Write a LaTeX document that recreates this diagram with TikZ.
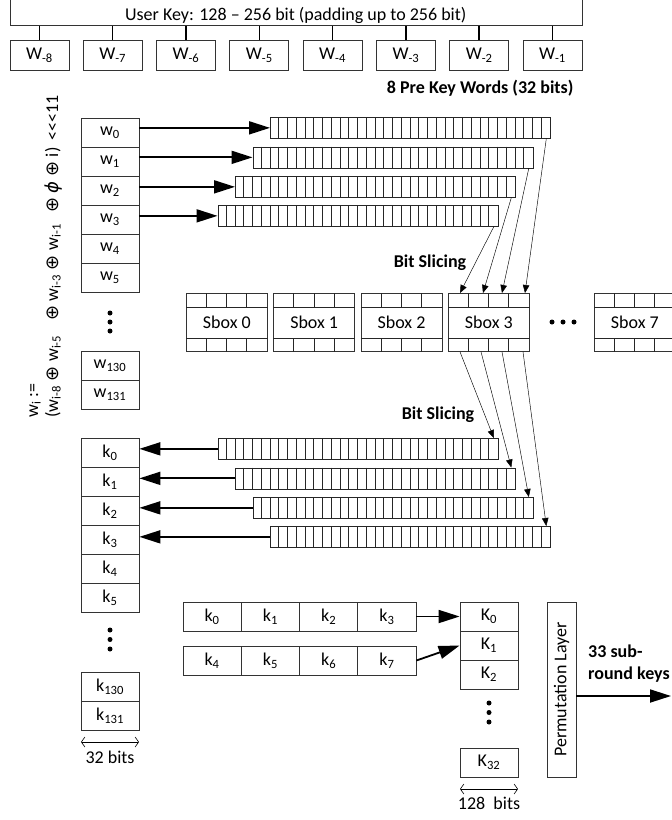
\documentclass[tikz,border=0pt]{standalone}
\usepackage{fontspec}
\setmainfont{Carlito}
\newfontfamily\symf{DejaVu Sans}
\usetikzlibrary{arrows.meta,calc}
\newcommand\fs{\fontsize{18}{21.6}\selectfont}
\newcommand\oxr{\hspace{4.5pt}{\symf ⊕}\hspace{4.5pt}}
\tikzset{
  bx/.style={draw=black!80, line width=0.8pt, inner sep=0pt, minimum width=58pt, minimum height=29pt},
  regbox/.style={draw=black!85, line width=0.7pt, inner sep=0pt, minimum width=280pt, minimum height=21pt, anchor=north west},
  cellline/.style={black!85, line width=0.6pt},
  bigarrow/.style={line width=1.8pt, -{Triangle[length=21pt,width=13pt]}},
  thinarrow/.style={line width=0.45pt, -{Triangle[length=8pt,width=6.5pt]}},
  conn/.style={line width=1.5pt},
  dimarrow/.style={line width=0.6pt, {Straight Barb[length=3.5pt,width=10pt]}-{Straight Barb[length=3.5pt,width=10pt]}},
  lbl/.style={font=\fs\bfseries},
  dotmark/.style={fill=black},
}
\newcommand\regist[3]{%
  \node[regbox] (#1) at (#2,#3) {};
  \foreach \i in {1,...,31}{\draw[cellline] ($(#1.north west)+(\i*8.75,0)$) -- ++(0,21);}
  \coordinate (#1t) at ($(#1.north east)+(-4.4,0)$);
  \coordinate (#1b) at ($(#1.south east)+(-4.4,0)$);
}
\newcommand\sboxunit[3]{%
  \node[draw=black!80, line width=0.8pt, inner sep=0pt, minimum width=81pt, minimum height=58pt, anchor=north west] (#1) at (#2,293) {#3};
  \draw[cellline] ($(#1.north west)+(0,14)$) -- ($(#1.north east)+(0,14)$);
  \draw[cellline] ($(#1.south west)+(0,-14)$) -- ($(#1.south east)+(0,-14)$);
  \foreach \i in {1,2,3}{
    \draw[cellline] ($(#1.north west)+(\i*20.25,0)$) -- ++(0,14);
    \draw[cellline] ($(#1.south west)+(\i*20.25,0)$) -- ++(0,-14);
  }
}
\begin{document}
\begin{tikzpicture}[x=1pt,y=-1pt,every node/.style={font=\fs}]
\useasboundingbox (0,0) rectangle (672,820);
% user key
\node[draw=black!80, line width=0.8pt, minimum width=572.5pt, minimum height=40pt, anchor=south west, inner sep=0pt] (ukey) at (9.5,25.7) {};
\node (uktext) at (295.75,15) {User Key: 128 – 256 bit (padding up to 256 bit)};
\foreach \n [count=\c from 0] in {8,7,6,5,4,3,2,1} {
  \node[bx, minimum width=59pt, minimum height=30pt, anchor=north west] (W\n) at (9.5+\c*73.3, 40) {W\textsubscript{-\n}};
  \draw[conn] (W\n.north) -- (W\n.north |- ukey.south);
}
\node[lbl, anchor=east] (pkw) at (577,88) {8 Pre Key Words (32 bits)};
% formula
\node[rotate=90, anchor=base west, inner sep=0pt] (f1) at (38,418) {w\textsubscript{i} :=};
\node[rotate=90, anchor=base west, inner sep=0pt] (f2) at (58,418) {(w\textsubscript{i-8}\oxr w\textsubscript{i-5}\hspace{10pt}\oxr w\textsubscript{i-3}\oxr w\textsubscript{i-1}\hspace{7pt}\oxr{\symf\itshape ϕ}\oxr i)\hspace{3pt} <{}<{}<11};
% w column
\foreach \i/\y in {0/132.5,1/161.5,2/190.5,3/219.5,4/248.5,5/277.5}
  \node[bx] (w\i) at (110,\y) {w\textsubscript{\i}};
\fill[dotmark] (110,313) circle (2.5) (110,322) circle (2.5) (110,331) circle (2.5);
\node[bx] (w130) at (110,366) {w\textsubscript{130}};
\node[bx] (w131) at (110,395) {w\textsubscript{131}};
% upper registers
\regist{R0}{270}{117}
\regist{R1}{252.5}{146.5}
\regist{R2}{235}{176}
\regist{R3}{217.5}{205}
\draw[bigarrow] (R0.west -| w0.east) -- (R0.west);
\draw[bigarrow] (R1.west -| w1.east) -- (R1.west);
\draw[bigarrow] (R2.west -| w2.east) -- (R2.west);
\draw[bigarrow] (R3.west -| w3.east) -- (R3.west);
% sboxes
\sboxunit{sb0}{186}{Sbox 0}
\sboxunit{sb1}{273.3}{Sbox 1}
\sboxunit{sb2}{360.6}{Sbox 2}
\sboxunit{sb3}{448}{Sbox 3}
\sboxunit{sb7}{594}{Sbox 7}
\fill[dotmark] (552,322) circle (2.5) (563,322) circle (2.5) (574,322) circle (2.5);
\coordinate (s3t0) at ($(sb3.north west)+(12,0)$);
\coordinate (s3t1) at ($(sb3.north west)+(35,0)$);
\coordinate (s3t2) at ($(sb3.north west)+(54,0)$);
\coordinate (s3t3) at ($(sb3.north west)+(77,0)$);
\draw[thinarrow] (R3b) -- (s3t0);
\draw[thinarrow] (R2b) -- (s3t1);
\draw[thinarrow] (R1b) -- (s3t2);
\draw[thinarrow] (R0b) -- (s3t3);
\node[lbl] (bs1) at (430,263) {Bit Slicing};
% lower registers
\regist{L0}{217.5}{438}
\regist{L1}{235}{467.5}
\regist{L2}{252.5}{497}
\regist{L3}{270}{526}
\coordinate (s3b0) at ($(sb3.south west)+(12,0)$);
\coordinate (s3b1) at ($(sb3.south west)+(33,0)$);
\coordinate (s3b2) at ($(sb3.south west)+(54,0)$);
\coordinate (s3b3) at ($(sb3.south west)+(75,0)$);
\draw[thinarrow] (s3b0) -- (L0t);
\draw[thinarrow] (s3b1) -- (L1t);
\draw[thinarrow] (s3b2) -- (L2t);
\draw[thinarrow] (s3b3) -- (L3t);
\node[lbl] (bs2) at (438,415) {Bit Slicing};
% k column
\foreach \i/\y in {0/452.5,1/481.5,2/510.5,3/539.5,4/568.5,5/597.5}
  \node[bx] (k\i) at (110,\y) {k\textsubscript{\i}};
\fill[dotmark] (110,630) circle (2.5) (110,639.5) circle (2.5) (110,649) circle (2.5);
\node[bx] (k130) at (110,686.5) {k\textsubscript{130}};
\node[bx] (k131) at (110,715.5) {k\textsubscript{131}};
\draw[bigarrow] (L0.west) -- (L0.west -| k0.east);
\draw[bigarrow] (L1.west) -- (L1.west -| k1.east);
\draw[bigarrow] (L2.west) -- (L2.west -| k2.east);
\draw[bigarrow] (L3.west) -- (L3.west -| k3.east);
\coordinate (d1a) at (81,742);
\coordinate (d1b) at (139,742);
\draw[dimarrow] (d1a) -- (d1b);
\node (d1t) at (110,757) {32 bits};
% bottom rows
\foreach \i in {0,...,3}
  \node[bx, minimum width=58.25pt] (r\i) at (212.1+\i*58.25, 616.5) {k\textsubscript{\i}};
\foreach \i in {4,...,7}
  \node[bx, minimum width=58.25pt] (r\i) at (212.1+\i*58.25-233, 660.5) {k\textsubscript{\i}};
% K column
\node[bx] (K0) at (489,616.5) {K\textsubscript{0}};
\node[bx] (K1) at (489,645.5) {K\textsubscript{1}};
\node[bx] (K2) at (489,674.5) {K\textsubscript{2}};
\fill[dotmark] (489,703) circle (2.5) (489,712.5) circle (2.5) (489,722) circle (2.5);
\node[bx] (K32) at (489,762.5) {K\textsubscript{32}};
\draw[bigarrow] (r3.east) -- (K0.west);
\draw[bigarrow] (r7.east) -- (K1.west);
\coordinate (d2a) at (460,789);
\coordinate (d2b) at (518,789);
\draw[dimarrow] (d2a) -- (d2b);
\node (d2t) at (489,803) {128\ \ bits};
% permutation
\node[draw=black!80, line width=0.8pt, minimum width=29pt, minimum height=175pt, inner sep=0pt] (perm) at (561.5,689.5) {};
\node[rotate=90] (permtxt) at (perm.center) {Permutation Layer};
\coordinate (out) at (671,696);
\draw[bigarrow] (perm.east |- out) -- (out);
\node[lbl, align=left, anchor=north west, inner sep=0pt] (subk) at (588,645) {33 sub-\\round keys};
\end{tikzpicture}
\end{document}
